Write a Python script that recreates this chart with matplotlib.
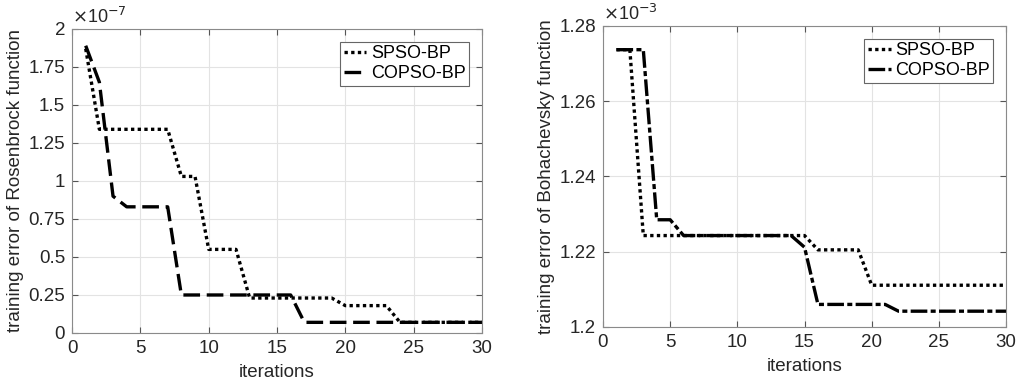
import numpy as np
import matplotlib.pyplot as plt
from matplotlib.ticker import FuncFormatter

plt.rcParams['font.family'] = ['Liberation Sans', 'DejaVu Sans']

# iterations
iters = np.arange(1, 31)

# Rosenbrock training error (x 1e-7)
rosen_scale = 1e-7
spso_rosen = [1.87, 1.34, 1.34, 1.34, 1.34, 1.34, 1.34, 1.03, 1.03, 0.55,
              0.55, 0.55, 0.23, 0.23, 0.23, 0.23, 0.23, 0.23, 0.23, 0.18,
              0.18, 0.18, 0.18, 0.07, 0.07, 0.07, 0.07, 0.07, 0.07, 0.07]
copso_rosen = [1.89, 1.65, 0.90, 0.83, 0.83, 0.83, 0.83, 0.25, 0.25, 0.25,
               0.25, 0.25, 0.25, 0.25, 0.25, 0.25, 0.07, 0.07, 0.07, 0.07,
               0.07, 0.07, 0.07, 0.07, 0.07, 0.07, 0.07, 0.07, 0.07, 0.07]

# Bohachevsky training error (x 1e-3)
boha_scale = 1e-3
spso_boha = [1.2737, 1.2737, 1.2243, 1.2243, 1.2243, 1.2243, 1.2243, 1.2243, 1.2243, 1.2243,
             1.2243, 1.2243, 1.2243, 1.2243, 1.2243, 1.2205, 1.2205, 1.2205, 1.2205, 1.2111,
             1.2111, 1.2111, 1.2111, 1.2111, 1.2111, 1.2111, 1.2111, 1.2111, 1.2111, 1.2111]
copso_boha = [1.2737, 1.2737, 1.2737, 1.2285, 1.2285, 1.2243, 1.2243, 1.2243, 1.2243, 1.2243,
              1.2243, 1.2243, 1.2243, 1.2243, 1.2212, 1.2060, 1.2060, 1.2060, 1.2060, 1.2060,
              1.2060, 1.2042, 1.2042, 1.2042, 1.2042, 1.2042, 1.2042, 1.2042, 1.2042, 1.2042]

fig = plt.figure(figsize=(10.16, 3.89), dpi=100)
ax1 = fig.add_axes([0.0709, 0.144, 0.4035, 0.7815])
ax2 = fig.add_axes([0.5935, 0.1594, 0.3967, 0.7738])


def style_axes(ax, scale, exp, yticks, fmt):
    ax.set_xlim(0, 30)
    ax.set_xticks(np.arange(0, 31, 5))
    ax.set_yticks(np.array(yticks) * scale)
    ax.yaxis.set_major_formatter(FuncFormatter(lambda v, p: fmt(v / scale)))
    ax.grid(True, color='#e3e3e3', linewidth=0.8)
    ax.set_axisbelow(True)
    ax.tick_params(direction='in', top=True, right=True, length=4,
                   color='#555555', labelsize=13.5, labelcolor='#262626', pad=5)
    for s in ax.spines.values():
        s.set_color('#8a8a8a')
        s.set_linewidth(0.8)
    ax.set_xlabel('iterations', fontsize=13.5, color='#262626', labelpad=5)
    ax.text(0.0, 1.005, r'$\times$10$^{-%d}$' % exp, transform=ax.transAxes,
            fontsize=13, color='#262626', ha='left', va='bottom')
    leg = ax.legend(loc='upper right', fontsize=13, handlelength=1.25,
                    handletextpad=0.25, borderpad=0.2, labelspacing=0.15,
                    fancybox=False, edgecolor='#666666', framealpha=1,
                    borderaxespad=0.7)
    leg.get_frame().set_linewidth(0.8)


ax1.plot(iters, np.array(spso_rosen) * rosen_scale, color='black', lw=2.4,
         linestyle=(0, (1, 1)), label='SPSO-BP')
ax1.plot(iters, np.array(copso_rosen) * rosen_scale, color='black', lw=2.4,
         linestyle=(0, (5, 2)), label='COPSO-BP')
ax1.set_ylim(0, 2 * rosen_scale)
style_axes(ax1, rosen_scale, 7, [0, 0.25, 0.5, 0.75, 1, 1.25, 1.5, 1.75, 2],
           lambda v: ('%.2f' % v).rstrip('0').rstrip('.'))
ax1.set_ylabel('training error of Rosenbrock function', fontsize=13.5,
               color='#262626', labelpad=3)

ax2.plot(iters, np.array(spso_boha) * boha_scale, color='black', lw=2.4,
         linestyle=(0, (1, 1)), label='SPSO-BP')
ax2.plot(iters, np.array(copso_boha) * boha_scale, color='black', lw=2.4,
         linestyle=(0, (5, 1, 1.5, 1)), label='COPSO-BP')
ax2.set_ylim(1.2 * boha_scale, 1.28 * boha_scale)
style_axes(ax2, boha_scale, 3, [1.2, 1.22, 1.24, 1.26, 1.28],
           lambda v: ('%.2f' % v).rstrip('0').rstrip('.'))
ax2.set_ylabel('training error of Bohachevsky function', fontsize=13.5,
               color='#262626', labelpad=3)

fig.savefig('out.png', dpi=100)
